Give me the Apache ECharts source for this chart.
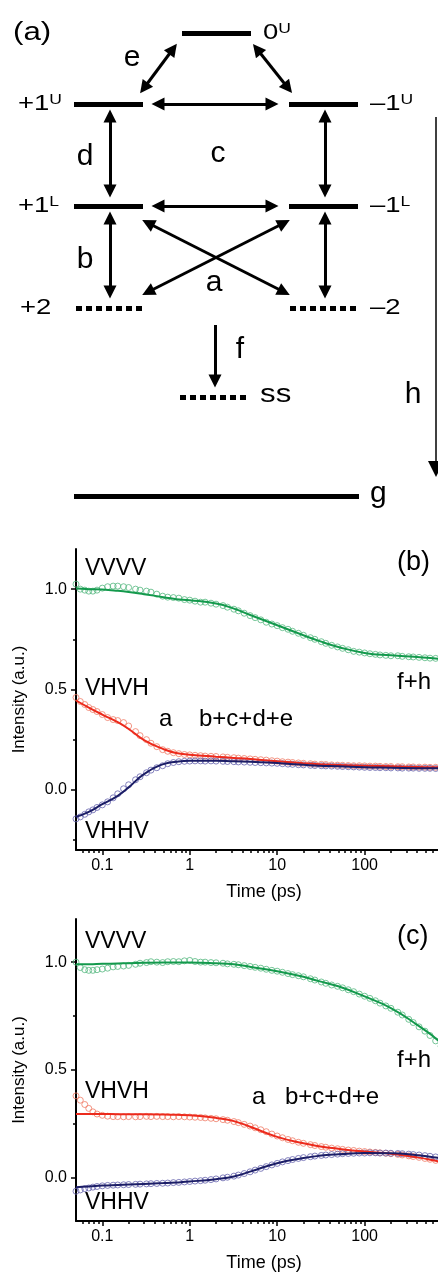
<!DOCTYPE html>
<html>
<head>
<meta charset="utf-8">
<script src="https://cdn.jsdelivr.net/npm/echarts@6/dist/echarts.min.js"></script>
<style>
  html, body { margin: 0; padding: 0; background: #fff; }
  #main { width: 438px; height: 1274px; }
</style>
</head>
<body>
<div id="main"></div>
<script>
// time points of the measured traces (ps)
var times = [0.05,0.056,0.063,0.07,0.078,0.087,
  0.1,0.115,0.133,0.15,0.175,0.2,0.24,0.27,0.32,0.36,0.42,0.49,0.56,0.65,0.75,0.87,
  1,1.15,1.33,1.5,1.75,2,2.4,2.7,3.2,3.6,4.2,4.9,5.6,6.5,7.5,8.7,
  10,11.5,13.3,15,17.5,20,24,27,32,36,42,49,56,65,75,87,
  100,115,133,150,175,200,240,270,320,360,420,490,560,650,750,870];

// panel (b) measured
var bVVVV = [1.025,1.0,0.995,0.99,0.99,0.995,
  1.005,1.012,1.015,1.015,1.012,1.008,1.0,0.995,0.99,0.985,0.975,0.965,0.96,0.958,0.955,0.948,
  0.945,0.94,0.935,0.935,0.93,0.925,0.918,0.91,0.9,0.892,0.88,0.868,0.858,0.847,0.835,0.826,
  0.818,0.808,0.8,0.79,0.78,0.77,0.758,0.75,0.738,0.73,0.72,0.712,0.705,0.698,0.69,0.686,
  0.682,0.678,0.675,0.672,0.67,0.668,0.668,0.665,0.663,0.662,0.66,0.658,0.656,0.655,0.652,0.65];
var bVHVH = [0.46,0.44,0.425,0.41,0.4,0.39,
  0.375,0.36,0.35,0.345,0.335,0.318,0.29,0.27,0.25,0.232,0.215,0.2,0.192,0.185,0.18,0.176,
  0.174,0.172,0.17,0.168,0.167,0.166,0.164,0.162,0.16,0.158,0.156,0.154,0.152,0.15,0.148,0.145,
  0.143,0.14,0.138,0.136,0.134,0.132,0.13,0.128,0.127,0.126,0.124,0.123,0.122,0.121,0.12,0.12,
  0.119,0.118,0.118,0.117,0.116,0.116,0.115,0.115,0.114,0.114,0.113,0.113,0.112,0.112,0.111,0.111];
var bVHHV = [-0.145,-0.135,-0.122,-0.11,-0.1,-0.088,
  -0.075,-0.06,-0.04,-0.02,0.005,0.025,0.05,0.065,0.085,0.098,0.11,0.12,0.13,0.136,0.14,0.142,
  0.143,0.144,0.144,0.143,0.144,0.143,0.142,0.141,0.14,0.139,0.138,0.137,0.136,0.135,0.134,0.133,
  0.132,0.13,0.128,0.127,0.125,0.124,0.122,0.121,0.12,0.119,0.118,0.117,0.116,0.115,0.114,0.113,
  0.112,0.111,0.111,0.11,0.11,0.109,0.109,0.108,0.108,0.108,0.107,0.107,0.107,0.106,0.106,0.106];

// panel (c) measured
var cVVVV = [1.0,0.975,0.965,0.962,0.962,0.965,
  0.968,0.972,0.978,0.98,0.982,0.985,0.99,0.995,0.998,1.002,1.0,0.998,1.002,1.003,1.002,1.006,
  1.008,1.003,1.0,1.0,0.998,0.997,0.995,0.992,0.99,0.988,0.984,0.98,0.976,0.972,0.967,0.962,
  0.958,0.953,0.947,0.942,0.937,0.932,0.923,0.917,0.908,0.902,0.894,0.888,0.881,0.872,0.863,0.852,
  0.842,0.832,0.821,0.81,0.797,0.786,0.768,0.755,0.735,0.72,0.7,0.68,0.66,0.635,0.61,0.58];
var cVHVH = [0.38,0.36,0.34,0.322,0.306,0.296,
  0.29,0.286,0.284,0.284,0.283,0.284,0.283,0.284,0.285,0.284,0.285,0.284,0.284,0.283,0.284,0.283,
  0.282,0.281,0.28,0.278,0.276,0.274,0.27,0.267,0.261,0.256,0.248,0.24,0.232,0.223,0.214,0.203,
  0.194,0.186,0.178,0.172,0.165,0.16,0.154,0.15,0.145,0.142,0.138,0.135,0.132,0.129,0.127,0.124,
  0.122,0.12,0.118,0.116,0.114,0.112,0.109,0.106,0.102,0.099,0.095,0.09,0.086,0.081,0.076,0.071];
var cVHHV = [-0.062,-0.056,-0.05,-0.047,-0.043,-0.04,
  -0.037,-0.035,-0.034,-0.033,-0.032,-0.031,-0.03,-0.029,-0.028,-0.027,-0.026,-0.025,-0.024,-0.022,-0.021,-0.019,
  -0.017,-0.015,-0.013,-0.011,-0.008,-0.005,0,0.003,0.008,0.013,0.02,0.028,0.036,0.044,0.052,0.06,
  0.067,0.074,0.08,0.085,0.09,0.094,0.098,0.101,0.104,0.106,0.108,0.11,0.112,0.113,0.114,0.115,
  0.115,0.116,0.116,0.115,0.115,0.114,0.113,0.112,0.11,0.108,0.106,0.103,0.1,0.097,0.094,0.091];

// fitted curves
var fitTimes = [0.05,0.07,0.1,0.15,0.2,0.3,0.5,0.7,1,2,3.2,5,10,20,30,50,100,200,400,700,1000];
var bFitVVVV = [1.003,1.0,0.998,0.992,0.986,0.975,0.96,0.95,0.945,0.928,0.903,0.87,0.82,0.77,0.742,0.712,0.682,0.67,0.662,0.653,0.65];
var bFitVHVH = [0.445,0.41,0.375,0.337,0.303,0.248,0.203,0.183,0.175,0.165,0.159,0.153,0.142,0.132,0.127,0.123,0.12,0.117,0.114,0.112,0.111];
var bFitVHHV = [-0.135,-0.11,-0.072,-0.03,0.012,0.078,0.128,0.14,0.145,0.145,0.142,0.14,0.133,0.125,0.12,0.117,0.112,0.11,0.108,0.107,0.106];
var cFitVVVV = [0.99,0.99,0.992,0.994,0.995,0.997,0.998,0.998,0.998,0.995,0.99,0.978,0.958,0.932,0.912,0.888,0.841,0.787,0.709,0.635,0.56];
var cFitVHVH = [0.296,0.296,0.296,0.295,0.295,0.295,0.294,0.292,0.29,0.278,0.263,0.236,0.19,0.16,0.147,0.135,0.122,0.112,0.095,0.077,0.065];
var cFitVHHV = [-0.043,-0.04,-0.036,-0.033,-0.031,-0.028,-0.024,-0.021,-0.017,-0.006,0.006,0.03,0.068,0.092,0.102,0.109,0.115,0.114,0.105,0.093,0.088];

var xLabels = [0.1, 1, 10, 100];
var xMajor = [0.1, 1, 10, 100, 1000];
var xMinor = [0.06,0.07,0.08,0.09,0.2,0.3,0.4,0.5,0.6,0.7,0.8,0.9,2,3,4,5,6,7,8,9,
  20,30,40,50,60,70,80,90,200,300,400,500,600,700,800,900];
var yMajor = [0, 0.5, 1.0];
var yMinor = [-0.25, 0.25, 0.75];

// level scheme of panel (a), in diagram units
var solidLevels = [[[182,33],[251,33]], [[74,104],[143,104]], [[289,104],[358,104]],
  [[74,206],[143,206]], [[289,206],[358,206]], [[74,496],[359,496]]];
var dottedLevels = [[[76,308],[144,308]], [[290,308],[358,308]], [[180,397],[248,397]]];
var doubleArrows = [[[173,49],[144,88]], [[257,49],[288,88]],
  [[158,104],[272,104]], [[158,206],[272,206]],
  [[110,116],[110,191]], [[325,116],[325,191]],
  [[110,218],[110,292]], [[325,218],[325,292]],
  [[148,223],[284,292]], [[284,223],[148,292]]];
var singleArrows = [[[215,325],[215,381]]];
var longArrow = [[[436,117],[436,469]]];

var FONT = '"Liberation Sans", Arial, sans-serif';
var GREEN = '#13994c', GREEN_PT = '#55b880';
var RED = '#ec2a1c', RED_PT = '#f07c66';
var NAVY = '#1b1d66', NAVY_PT = '#6664ae';

function pairs(xs, ys) { return ys.map(function (v, i) { return [xs[i], v]; }); }
function segs(list) { return list.map(function (c) { return { coords: c }; }); }

var chart = echarts.init(document.getElementById('main'), null, { renderer: 'canvas' });

function txt(x, y, text, size, align, rich, sx) {
  return {
    type: 'text', x: x, y: y, z: 100, scaleX: sx || 1,
    style: {
      text: text, fontSize: size, fontFamily: FONT, fill: '#000',
      align: align || 'left', verticalAlign: 'middle',
      rich: rich || undefined
    }
  };
}
var supRich = { s: { fontSize: 14, fontFamily: FONT, verticalAlign: 'top', fill: '#000' } };

function logX(grid, minor) {
  return {
    type: 'log', gridIndex: grid, min: 0.05, max: 1000, position: 'bottom',
    name: minor ? '' : 'Time (ps)', nameLocation: 'middle', nameGap: 33,
    nameTextStyle: { fontSize: 18, fontFamily: FONT, color: '#000' },
    axisLine: { show: !minor, onZero: false, lineStyle: { color: '#000', width: 2 } },
    axisTick: { show: true, inside: false, length: minor ? 3 : 5, customValues: minor ? xMinor : xMajor,
      lineStyle: { color: '#000', width: 1.5 } },
    axisLabel: { show: !minor, customValues: xLabels, margin: 8, fontSize: 16, fontFamily: FONT, color: '#000',
      formatter: function (v) { return String(v); } },
    splitLine: { show: false }, minorTick: { show: false }
  };
}
function linY(grid, min, minor) {
  return {
    type: 'value', gridIndex: grid, min: min, max: 1.2, position: 'left',
    name: minor ? '' : 'Intensity (a.u.)', nameLocation: 'middle', nameGap: 48, nameRotate: 90,
    nameTextStyle: { fontSize: 17, fontFamily: FONT, color: '#000' },
    axisLine: { show: !minor, onZero: false, lineStyle: { color: '#000', width: 2 } },
    axisTick: { show: true, inside: false, length: minor ? 3 : 5, customValues: minor ? yMinor : yMajor,
      lineStyle: { color: '#000', width: 1.5 } },
    axisLabel: { show: !minor, customValues: yMajor, margin: 9, fontSize: 16, fontFamily: FONT, color: '#000',
      formatter: function (v) { return v.toFixed(1); } },
    splitLine: { show: false }
  };
}

function pts(x, y, data, color) {
  return {
    type: 'scatter', xAxisIndex: x, yAxisIndex: y, data: data, symbol: 'circle', symbolSize: 6,
    itemStyle: { color: 'transparent', borderColor: color, borderWidth: 1 },
    silent: true, z: 2
  };
}
function fit(x, y, data, color) {
  return {
    type: 'line', xAxisIndex: x, yAxisIndex: y, data: data, smooth: true, showSymbol: false,
    lineStyle: { color: color, width: 2 }, silent: true, z: 3
  };
}
function arrows(list, sym, size, width) {
  return {
    type: 'lines', coordinateSystem: 'cartesian2d', xAxisIndex: 0, yAxisIndex: 0,
    data: segs(list), symbol: sym, symbolSize: size, silent: true,
    lineStyle: { color: '#000', width: width, opacity: 1 },
    itemStyle: { color: '#000' }
  };
}

var option = {
  animation: false,
  backgroundColor: '#fff',
  grid: [
    { left: 0, top: 0, width: 438, height: 520, outerBoundsMode: 'none' },
    { left: 76, top: 549, width: 376, height: 301, outerBoundsMode: 'none' },
    { left: 76, top: 919, width: 376, height: 302, outerBoundsMode: 'none' }
  ],
  xAxis: [
    { type: 'value', gridIndex: 0, min: 0, max: 438, show: false },
    logX(1, false), logX(1, true),
    logX(2, false), logX(2, true)
  ],
  yAxis: [
    { type: 'value', gridIndex: 0, min: 0, max: 520, inverse: true, show: false },
    linY(1, -0.3, false), linY(1, -0.3, true),
    linY(2, -0.2, false), linY(2, -0.2, true)
  ],
  series: [
    arrows(solidLevels, 'none', 0, 5),
    { type: 'lines', coordinateSystem: 'cartesian2d', xAxisIndex: 0, yAxisIndex: 0,
      data: segs(dottedLevels), symbol: 'none', silent: true,
      lineStyle: { color: '#000', width: 5, type: [6, 4], cap: 'butt', opacity: 1 } },
    arrows(doubleArrows, ['triangle', 'triangle'], 13, 3),
    arrows(singleArrows, ['none', 'triangle'], 13, 3),
    arrows(longArrow, ['none', 'triangle'], 16, 1.5),

    pts(1, 1, pairs(times, bVVVV), GREEN_PT),
    pts(1, 1, pairs(times, bVHVH), RED_PT),
    pts(1, 1, pairs(times, bVHHV), NAVY_PT),
    fit(1, 1, pairs(fitTimes, bFitVVVV), GREEN),
    fit(1, 1, pairs(fitTimes, bFitVHVH), RED),
    fit(1, 1, pairs(fitTimes, bFitVHHV), NAVY),

    pts(3, 3, pairs(times, cVVVV), GREEN_PT),
    pts(3, 3, pairs(times, cVHVH), RED_PT),
    pts(3, 3, pairs(times, cVHHV), NAVY_PT),
    fit(3, 3, pairs(fitTimes, cFitVVVV), GREEN),
    fit(3, 3, pairs(fitTimes, cFitVHVH), RED),
    fit(3, 3, pairs(fitTimes, cFitVHHV), NAVY)
  ],
  graphic: [
    // panel (a)
    txt(13, 33, '(a)', 25, 'left', null, 1.25),
    txt(263, 33, '0{s|U}', 22, 'left', supRich, 1.25),
    txt(18, 104, '+1{s|U}', 22, 'left', supRich, 1.25),
    txt(370, 104, '\u20131{s|U}', 22, 'left', supRich, 1.25),
    txt(18, 206, '+1{s|L}', 22, 'left', supRich, 1.25),
    txt(370, 206, '\u20131{s|L}', 22, 'left', supRich, 1.25),
    txt(20, 308, '+2', 22, 'left', null, 1.25),
    txt(370, 308, '\u20132', 22, 'left', null, 1.25),
    txt(260, 395, 'ss', 25, 'left', null, 1.25),
    txt(370, 494, 'g', 30),
    txt(132, 58, 'e', 30, 'center'),
    txt(85, 157, 'd', 30, 'center'),
    txt(218, 154, 'c', 30, 'center'),
    txt(85, 260, 'b', 30, 'center'),
    txt(214, 283, 'a', 30, 'center'),
    txt(240, 350, 'f', 30, 'center'),
    txt(413, 395, 'h', 30, 'center'),
    // panel (b)
    txt(85, 569, 'VVVV', 23),
    txt(397, 563, '(b)', 27),
    txt(397, 682, 'f+h', 24),
    txt(85, 689, 'VHVH', 23),
    txt(159, 719, 'a', 24),
    txt(199, 719, 'b+c+d+e', 24),
    txt(85, 832, 'VHHV', 23),
    // panel (c)
    txt(85, 942, 'VVVV', 23),
    txt(397, 937, '(c)', 27),
    txt(397, 1060, 'f+h', 24),
    txt(85, 1092, 'VHVH', 23),
    txt(252, 1097, 'a', 24),
    txt(285, 1097, 'b+c+d+e', 24),
    txt(85, 1203, 'VHHV', 23)
  ]
};

chart.setOption(option);
</script>
</body>
</html>
